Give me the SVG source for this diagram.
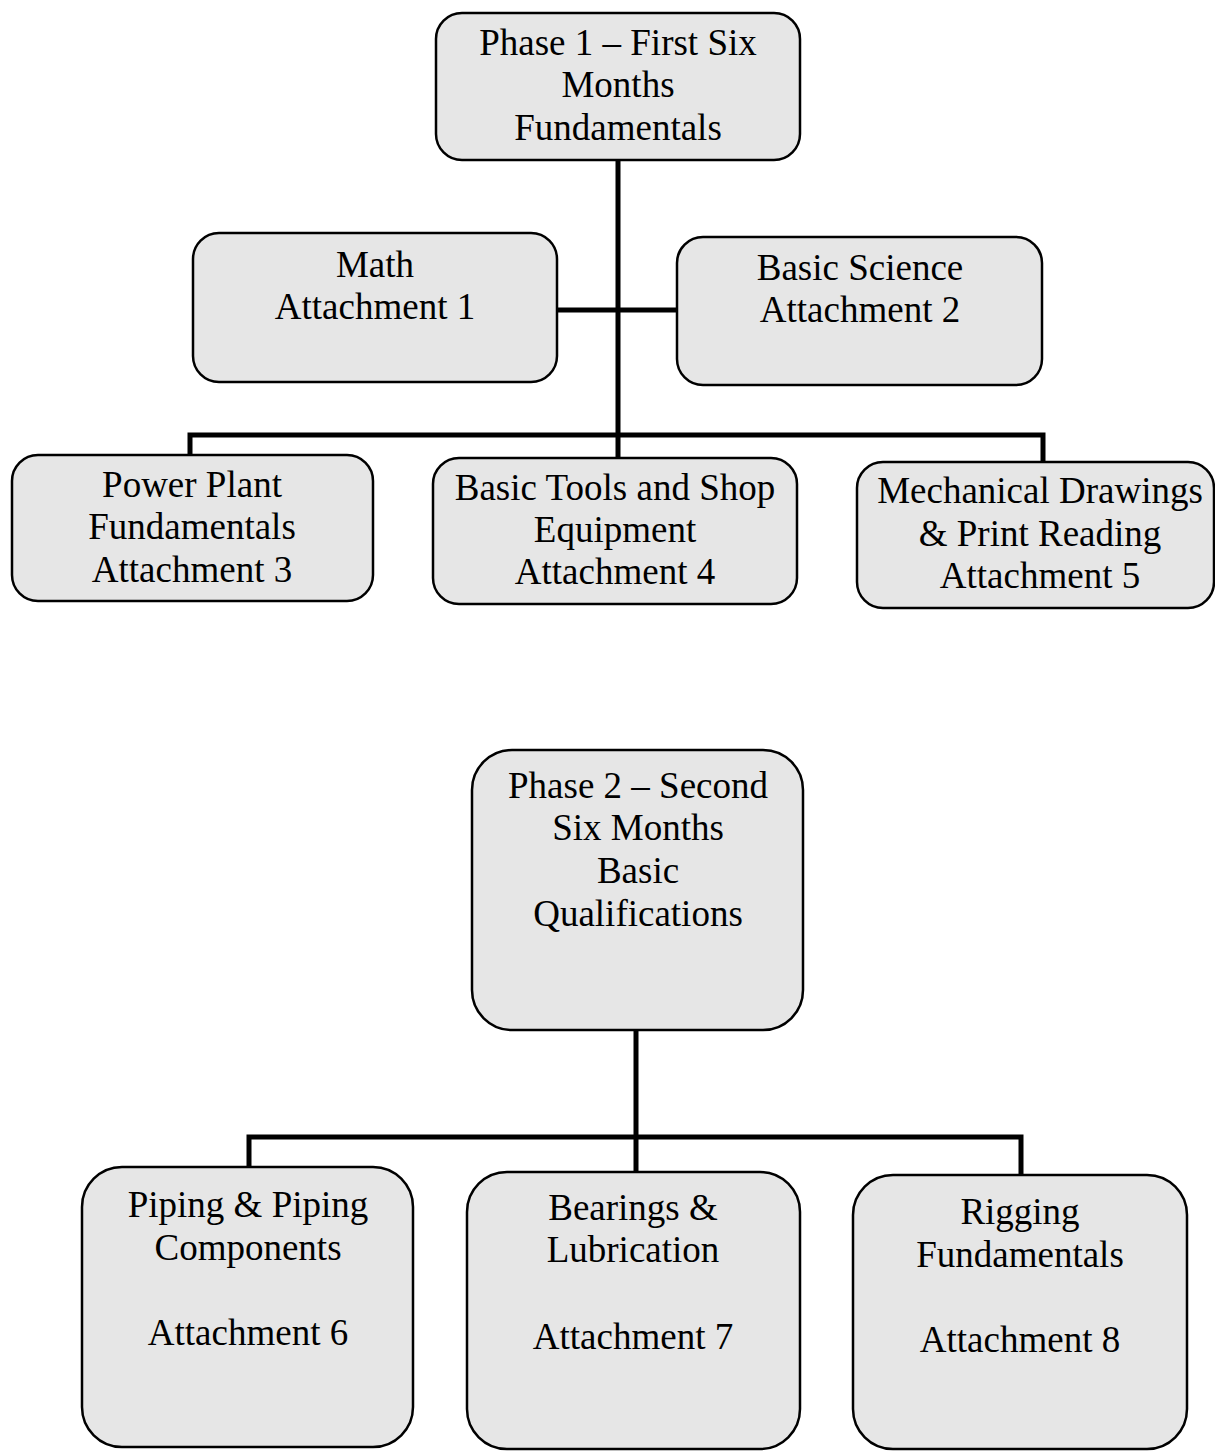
<svg xmlns="http://www.w3.org/2000/svg" width="1215" height="1452" viewBox="0 0 1215 1452">
<style>
.box{fill:#e6e6e6;stroke:#000;stroke-width:2.5}
.t{font-family:"Liberation Serif","Times New Roman",serif;font-size:37px;fill:#000;text-anchor:middle}
.c{stroke:#000;stroke-width:5;fill:none}
</style>
<rect width="1215" height="1452" fill="#fff"/>
<g id="connectors">
<line class="c" x1="618" y1="160" x2="618" y2="458"/>
<line class="c" x1="557" y1="310" x2="677" y2="310"/>
<polyline class="c" points="190,456 190,435 1043,435 1043,462"/>
<line class="c" x1="636" y1="1030" x2="636" y2="1172"/>
<polyline class="c" points="249,1168 249,1137 1021,1137 1021,1175"/>
</g>
<g id="phase1">
<rect class="box" x="436" y="13" width="364" height="147" rx="26"/>
<text class="t" x="618" y="55">Phase 1 – First Six</text>
<text class="t" x="618" y="97">Months</text>
<text class="t" x="618" y="140">Fundamentals</text>
</g>
<g id="math">
<rect class="box" x="193" y="233" width="364" height="149" rx="26"/>
<text class="t" x="375" y="277">Math</text>
<text class="t" x="375" y="319">Attachment 1</text>
</g>
<g id="science">
<rect class="box" x="677" y="237" width="365" height="148" rx="26"/>
<text class="t" x="860" y="280">Basic Science</text>
<text class="t" x="860" y="322">Attachment 2</text>
</g>
<g id="powerplant">
<rect class="box" x="12" y="455" width="361" height="146" rx="26"/>
<text class="t" x="192" y="497">Power Plant</text>
<text class="t" x="192" y="539">Fundamentals</text>
<text class="t" x="192" y="582">Attachment 3</text>
</g>
<g id="tools">
<rect class="box" x="433" y="458" width="364" height="146" rx="26"/>
<text class="t" x="615" y="500">Basic Tools and Shop</text>
<text class="t" x="615" y="542">Equipment</text>
<text class="t" x="615" y="584">Attachment 4</text>
</g>
<g id="drawings">
<rect class="box" x="857" y="462" width="357" height="146" rx="26"/>
<text class="t" x="1040" y="503">Mechanical Drawings</text>
<text class="t" x="1040" y="546">&amp; Print Reading</text>
<text class="t" x="1040" y="588">Attachment 5</text>
</g>
<g id="phase2">
<rect class="box" x="472" y="750" width="331" height="280" rx="40"/>
<text class="t" x="638" y="798">Phase 2 – Second</text>
<text class="t" x="638" y="840">Six Months</text>
<text class="t" x="638" y="883">Basic</text>
<text class="t" x="638" y="926">Qualifications</text>
</g>
<g id="piping">
<rect class="box" x="82" y="1167" width="331" height="280" rx="40"/>
<text class="t" x="248" y="1217">Piping &amp; Piping</text>
<text class="t" x="248" y="1260">Components</text>
<text class="t" x="248" y="1345">Attachment 6</text>
</g>
<g id="bearings">
<rect class="box" x="467" y="1172" width="333" height="277" rx="40"/>
<text class="t" x="633" y="1220">Bearings &amp;</text>
<text class="t" x="633" y="1262">Lubrication</text>
<text class="t" x="633" y="1349">Attachment 7</text>
</g>
<g id="rigging">
<rect class="box" x="853" y="1175" width="334" height="274" rx="40"/>
<text class="t" x="1020" y="1224">Rigging</text>
<text class="t" x="1020" y="1267">Fundamentals</text>
<text class="t" x="1020" y="1352">Attachment 8</text>
</g>
</svg>
